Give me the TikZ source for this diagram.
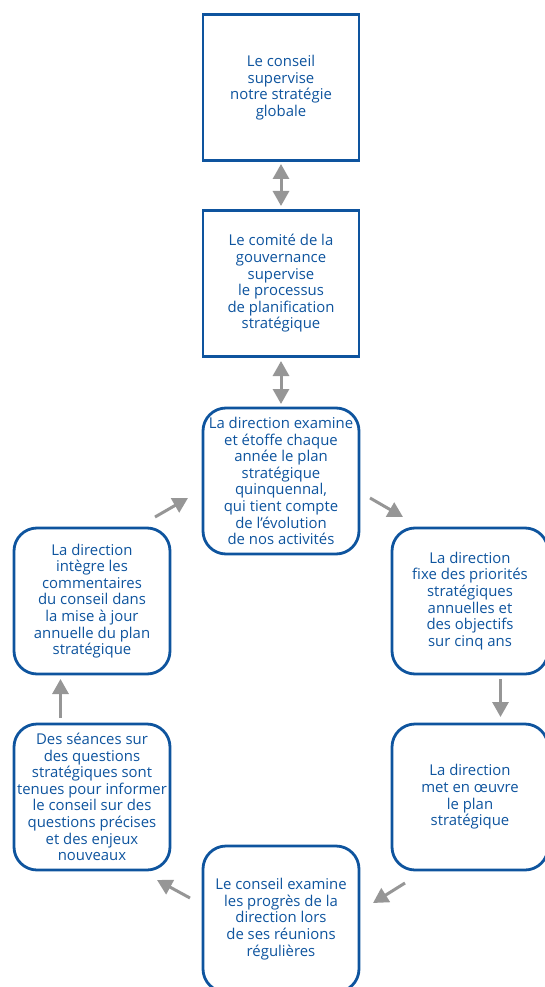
\documentclass[tikz,border=0pt]{standalone}
\usepackage{fontspec}
\setmainfont{Open Sans}
\usetikzlibrary{arrows.meta}
\definecolor{dblue}{RGB}{14,84,158}
\definecolor{agrey}{RGB}{150,150,150}
\tikzset{
  box/.style={draw=dblue, line width=2.8pt, text=dblue, align=center,
    minimum width=156pt, minimum height=146pt, inner sep=0pt,
    font=\fontsize{14.9pt}{16.6pt}\selectfont},
  rbox/.style={box, rounded corners=23pt},
  flow/.style={draw=agrey, line width=3pt, -{Triangle[length=15pt,width=16pt]}},
  dflow/.style={draw=agrey, line width=3pt, {Triangle[length=15pt,width=16pt]}-{Triangle[length=15pt,width=16pt]}}
}
\begin{document}
\begin{tikzpicture}[x=1pt,y=-1pt]
\useasboundingbox (0,0) rectangle (545,987);
\clip (0,0) rectangle (545,987);
\node[box] (b1) at (281,87.5) {Le conseil\\supervise\\notre stratégie\\globale};
\node[box] (b2) at (281,283.5) {Le comité de la\\gouvernance\\supervise\\le processus\\de planification\\stratégique};
\node[rbox] (c) at (281,481) {La direction examine\\et étoffe chaque\\année le plan\\stratégique\\quinquennal,\\qui tient compte\\de l’évolution\\de nos activités};
\node[rbox] (ru) at (470,601) {La direction\\fixe des priorités\\stratégiques\\annuelles et\\des objectifs\\sur cinq ans};
\node[rbox] (rl) at (470,797) {La direction\\met en œuvre\\le plan\\stratégique};
\node[rbox] (bot) at (281,919) {Le conseil examine\\les progrès de la\\direction lors\\de ses réunions\\régulières};
\node[rbox] (ll) at (92,797) {Des séances sur\\des questions\\stratégiques sont\\tenues pour informer\\le conseil sur des\\questions précises\\et des enjeux\\nouveaux};
\node[rbox] (lu) at (92,601) {La direction\\intègre les\\commentaires\\du conseil dans\\la mise à jour\\annuelle du plan\\stratégique};
% arrow end points
\coordinate (a1s) at (281,164); \coordinate (a1e) at (281,206);
\coordinate (a2s) at (281,361); \coordinate (a2e) at (281,404);
\coordinate (a3s) at (370,498); \coordinate (a3e) at (403,517);
\coordinate (a4s) at (500.5,679); \coordinate (a4e) at (500.5,717);
\coordinate (a5s) at (405,883); \coordinate (a5e) at (373,903);
\coordinate (a6s) at (190,898); \coordinate (a6e) at (157,880);
\coordinate (a7s) at (60.5,718); \coordinate (a7e) at (60.5,679);
\coordinate (a8s) at (155,517); \coordinate (a8e) at (188,498);
\draw[dflow] (a1s) -- (a1e);
\draw[dflow] (a2s) -- (a2e);
\draw[flow] (a3s) -- (a3e);
\draw[flow] (a4s) -- (a4e);
\draw[flow] (a5s) -- (a5e);
\draw[flow] (a6s) -- (a6e);
\draw[flow] (a7s) -- (a7e);
\draw[flow] (a8s) -- (a8e);
\end{tikzpicture}
\end{document}
